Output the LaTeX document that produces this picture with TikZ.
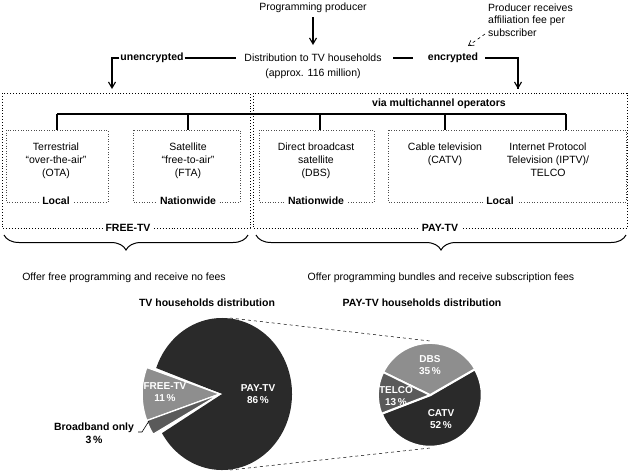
\documentclass[tikz,border=0pt]{standalone}
\usepackage{fontspec}
\setmainfont{Liberation Sans}
\usetikzlibrary{arrows.meta,decorations.pathreplacing,calc}
\definecolor{pdark}{HTML}{2A2A2A}
\definecolor{pmid}{HTML}{8E8E8E}
\definecolor{pdim}{HTML}{5A5A5A}
\begin{document}
\begin{tikzpicture}[x=1pt,y=1pt,
  txt/.style={font=\fontsize{10.5}{13}\selectfont,align=center,inner sep=1pt},
  bld/.style={font=\fontsize{10.5}{13}\selectfont\bfseries,align=center,inner sep=1pt},
  lbl/.style={bld,fill=white,inner sep=3pt},
  wtxt/.style={font=\fontsize{10}{12}\selectfont\bfseries,text=white,align=center,inner sep=0pt},
  arr/.style={line width=1.1pt,-{Straight Barb[length=6pt,width=7pt]}},
  conn/.style={line width=1.1pt},
  outer/.style={dotted,line width=0.9pt},
  inner/.style={dotted,line width=0.6pt,draw=black!70},
  brc/.style={decorate,decoration={brace,amplitude=15pt},line width=1pt}]
\useasboundingbox (0,0) rectangle (629,-472);
% top
\node[txt] (prod) at (313,-8) {Programming producer};
\node[txt] (dist) at (313,-58) {Distribution to TV households};
\node[txt] (appr) at (313,-74) {(approx. 116 million)};
\draw[arr] (313,-17) -- (313,-45);
\node[bld] (unenc) at (152,-58) {unencrypted};
\node[bld] (enc) at (453,-58) {encrypted};
\node[txt,align=left,anchor=west,font=\fontsize{10.5}{12.5}\selectfont] (recv) at (487,-20) {Producer receives\\affiliation fee per\\subscriber};
\coordinate (ul) at (112,-89);
\coordinate (ur) at (518,-89);
\draw[arr] (unenc.west) -| (ul);
\draw[conn] (unenc.east) -- (236,-58);
\draw[conn] (393,-58) -- (413,-58);
\draw[conn] (485,-58) -| (ur);
\draw[arr] (518,-70) -- (ur);
\draw[dashed,line width=0.6pt,-{Straight Barb[open,length=5pt,width=6pt]}] (485,-34) -- (468,-46);
% outer boxes
\draw[outer] (2,-93) rectangle (250,-228);
\draw[outer] (253,-93) rectangle (627,-228);
\node[lbl] (free) at (128,-228) {FREE-TV};
\node[lbl] (pay) at (440,-228) {PAY-TV};
\node[bld] (via) at (439,-104) {via multichannel operators};
% inner boxes
\draw[inner] (6,-130) rectangle (108,-202);
\draw[inner] (133,-130) rectangle (240,-202);
\draw[inner] (259,-130) rectangle (374,-202);
\draw[inner] (388,-130) rectangle (626,-202);
\node[lbl] (l1) at (56,-201) {Local};
\node[lbl] (l2) at (188,-201) {Nationwide};
\node[lbl] (l3) at (316,-201) {Nationwide};
\node[lbl] (l4) at (500,-201) {Local};
\node[txt,anchor=north] (b1) at (56,-142) {Terrestrial\\“over-the-air”\\(OTA)};
\node[txt,anchor=north] (b2) at (188,-142) {Satellite\\“free-to-air”\\(FTA)};
\node[txt,anchor=north] (b3) at (316,-142) {Direct broadcast\\satellite\\(DBS)};
\node[txt,anchor=north] (b4) at (445,-142) {Cable television\\(CATV)};
\node[txt,anchor=north] (b5) at (548,-142) {Internet Protocol\\Television (IPTV)/\\TELCO};
\draw[conn] (57,-114) -- (566,-114);
\foreach \x in {57,188,320,445,566} \draw[conn] (\x,-114) -- (\x,-130);
% braces
\draw[brc] (248,-235) -- (4,-235);
\draw[brc] (626,-235) -- (256,-235);
\node[txt] (ofree) at (124,-278) {Offer free programming and receive no fees};
\node[txt] (opay) at (441,-278) {Offer programming bundles and receive subscription fees};
\node[bld] (t1) at (207,-303) {TV households distribution};
\node[bld] (t2) at (422,-303) {PAY-TV households distribution};
% big pie
\coordinate (bc) at (222,-394);
\fill[pdark] (bc) -- ($(bc)+(211:70 and 76)$) arc[start angle=211,end angle=520,x radius=70,y radius=76] -- cycle;
\fill[pmid,draw=white,line width=1.5pt] ($(bc)+(-2,0)$) -- ++(160:78 and 78) arc[start angle=160,end angle=200,x radius=78,y radius=78] -- cycle;
\fill[pdim,draw=white,line width=1.2pt] ($(bc)+(-2,0)$) -- ++(200:78 and 78) arc[start angle=200,end angle=211,x radius=78,y radius=78] -- cycle;
\node[wtxt] (pftv) at (165,-392) {FREE-TV\\11\,\%};
\node[wtxt] (pptv) at (258,-394) {PAY-TV\\86\,\%};
\node[bld,align=center] (bb) at (94,-433) {Broadband only\\3\,\%};
\coordinate (bbe) at (138,-432);
\draw[line width=0.6pt] (bbe) -- ++(4,0) -- (149,-421);
% small pie
\coordinate (sc) at (430,-395);
\fill[pdark,draw=white,line width=2.5pt] (sc) -- ++(201:52) arc[start angle=201,end angle=390,radius=52] -- cycle;
\fill[pmid,draw=white,line width=1.8pt] (sc) -- ++(30:52) arc[start angle=30,end angle=154,radius=52] -- cycle;
\fill[pdim,draw=white,line width=1.8pt] (sc) -- ++(154:52) arc[start angle=154,end angle=201,radius=52] -- cycle;
\node[wtxt] (pdbs) at (430,-365) {DBS\\35\,\%};
\node[wtxt] (ptel) at (396,-396) {TELCO\\13\,\%};
\node[wtxt] (pcat) at (441,-419) {CATV\\52\,\%};
\draw[dashed,line width=0.5pt] (230,-318) -- (430,-341);
\draw[dashed,line width=0.5pt] (230,-470) -- (430,-448);
\end{tikzpicture}
\end{document}
